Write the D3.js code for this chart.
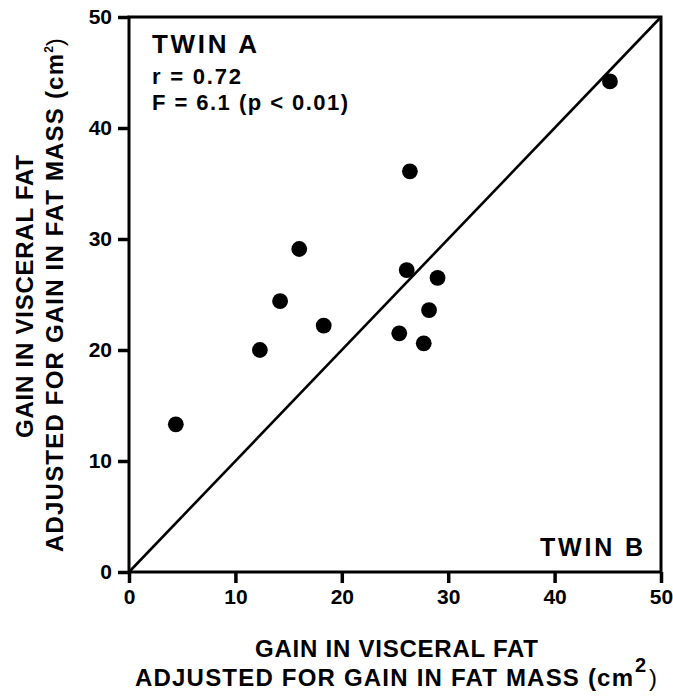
<!DOCTYPE html>
<html>
<head>
<meta charset="utf-8">
<script src="https://cdn.jsdelivr.net/npm/d3@7"></script>
<style>
body { margin: 0; background: #fff; }
svg text { font-family: "Liberation Sans", Arial, sans-serif; fill: #000; font-weight: bold; }
.tick text { font-size: 21px; }
.axis line { stroke: #000; stroke-width: 3.5; }
</style>
</head>
<body>
<svg class="scatter" width="673" height="696"></svg>
<script>
// twin B gain (x) vs twin A gain (y), cm2
var twinB = [4.4, 12.3, 14.2, 16.0, 18.3, 26.4, 26.1, 29.0, 28.2, 25.4, 27.7, 45.2];
var twinA = [13.3, 20.0, 24.4, 29.1, 22.2, 36.1, 27.2, 26.5, 23.6, 21.5, 20.6, 44.2];
var tickValues = [0, 10, 20, 30, 40, 50];
var identityLine = [0, 50];

var meta = {};
meta['margin'] = {top: 17, right: 12, bottom: 124, left: 129};
meta['width'] = 673 - meta.margin.left - meta.margin.right;
meta['height'] = 696 - meta.margin.top - meta.margin.bottom;

var svg = d3.select(".scatter");
var g = svg.append('g')
    .attr('transform', `translate(${meta.margin.left}, ${meta.margin.top})`);

var xScale = d3.scaleLinear().domain([0, 50]).range([0, meta.width]);
var yScale = d3.scaleLinear().domain([0, 50]).range([meta.height, 0]);

// frame
g.append('rect')
    .attr('width', meta.width)
    .attr('height', meta.height)
    .attr('fill', 'none')
    .attr('stroke', '#000')
    .attr('stroke-width', 3);

g.append('g')
    .attr('class', 'axis')
    .attr('transform', `translate(0, ${meta.height})`)
    .call(d3.axisBottom(xScale).tickValues(tickValues).tickSize(11).tickPadding(6))
    .call(d => d.select('.domain').remove());

g.append('g')
    .attr('class', 'axis')
    .call(d3.axisLeft(yScale).tickValues(tickValues).tickSize(11).tickPadding(6))
    .call(d => d.select('.domain').remove());

// identity line
g.append('line')
    .attr('x1', xScale(identityLine[0]))
    .attr('y1', yScale(identityLine[0]))
    .attr('x2', xScale(identityLine[1]))
    .attr('y2', yScale(identityLine[1]))
    .attr('stroke', '#000')
    .attr('stroke-width', 2.6);

var pts = twinB.map((v, i) => ({x: v, y: twinA[i]}));
g.selectAll('circle.pt')
    .data(pts)
    .enter()
    .append('circle')
    .attr('class', 'pt')
    .attr('cx', d => xScale(d.x))
    .attr('cy', d => yScale(d.y))
    .attr('r', 7.9)
    .attr('fill', '#000');

// annotations (widths stretched to match the wide typeface of the original)
function label(x, y, size, str, len, anchor) {
    return svg.append('text')
        .attr('x', x).attr('y', y)
        .attr('text-anchor', anchor || 'start')
        .attr('textLength', len)
        .attr('lengthAdjust', 'spacing')
        .style('font-size', size + 'px')
        .text(str);
}
label(152, 53, 26, 'TWIN A', 105);
label(152, 84, 22, 'r = 0.72', 89);
label(152, 110, 22, 'F = 6.1 (p < 0.01)', 196);
label(540, 556, 25, 'TWIN B', 103);

// x title
label(255, 657, 24, 'GAIN IN VISCERAL FAT', 283);
var xt = svg.append('text')
    .attr('x', 135).attr('y', 686)
    .style('font-size', '24px');
xt.append('tspan').attr('textLength', 498).attr('lengthAdjust', 'spacing')
    .text('ADJUSTED FOR GAIN IN FAT MASS (cm');
xt.append('tspan').attr('x', 635).attr('y', 672).style('font-size', '20px').text('2');
xt.append('tspan').attr('x', 649).attr('y', 686).style('font-weight', 'normal').text(')');

// y title
var yt1 = svg.append('text')
    .attr('transform', 'translate(33, 438) rotate(-90)')
    .attr('textLength', 283)
    .attr('lengthAdjust', 'spacing')
    .style('font-size', '24px')
    .text('GAIN IN VISCERAL FAT');
var yt = svg.append('text')
    .attr('transform', 'translate(63, 552) rotate(-90)')
    .style('font-size', '24px');
yt.append('tspan').attr('textLength', 498).attr('lengthAdjust', 'spacing')
    .text('ADJUSTED FOR GAIN IN FAT MASS (cm');
yt.append('tspan').attr('dy', -10).style('font-size', '12px').text('2');
yt.append('tspan').attr('dy', 10).style('font-weight', 'normal').text(')');
</script>
</body>
</html>
